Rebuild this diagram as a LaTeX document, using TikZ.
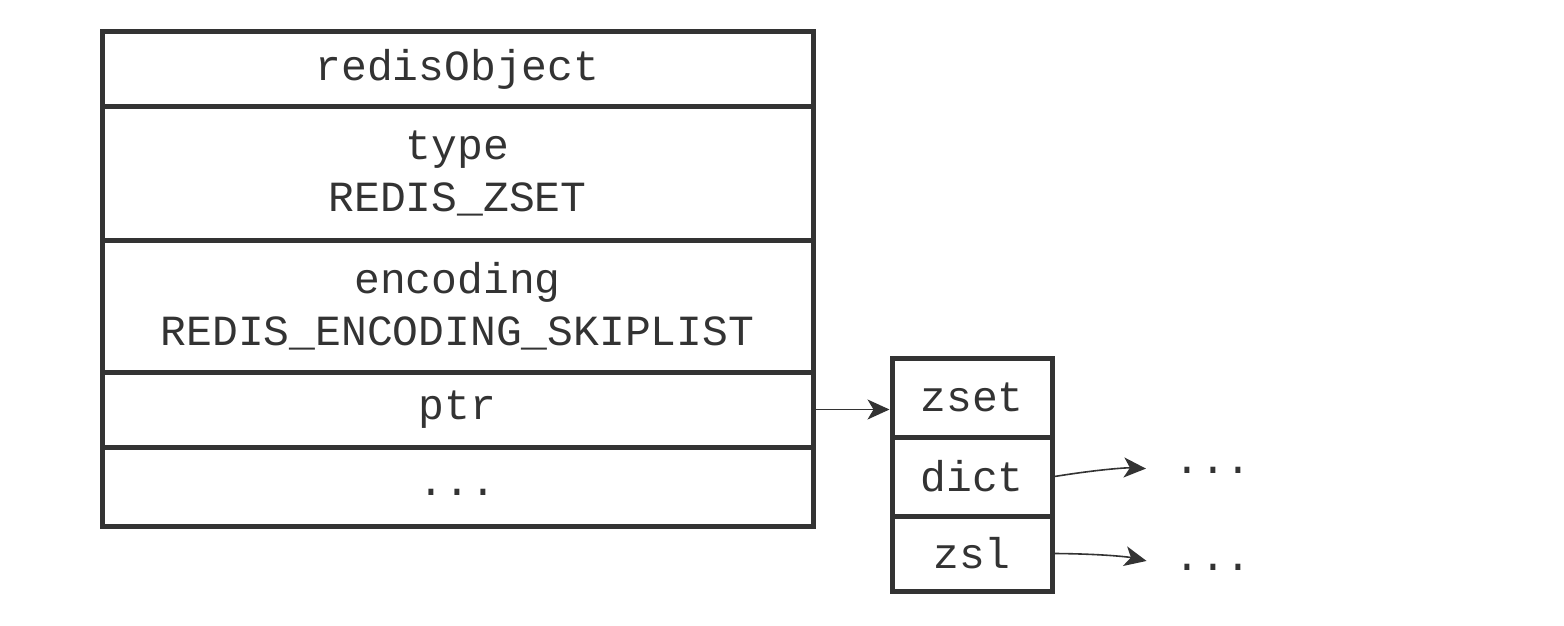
\documentclass[tikz,border=0pt]{standalone}
\usepackage{fontspec}
\setmonofont{Liberation Mono}
\usepackage{tikz}
\usetikzlibrary{arrows.meta}

\definecolor{ink}{HTML}{333333}

\begin{document}
\begin{tikzpicture}[x=0.5pt,y=-0.5pt,
    field/.style={draw=ink,line width=2.5pt,text=ink,align=center,
        font=\ttfamily\fontsize{21.5pt}{26pt}\selectfont,inner sep=0pt},
    objfield/.style={field,minimum width=355.5pt},
    setfield/.style={field,minimum width=80pt},
    pointer/.style={draw=ink,line width=0.8pt,
        -{Stealth[length=11pt,width=10pt,inset=3pt]}},
    etc/.style={text=ink,font=\ttfamily\fontsize{21.5pt}{26pt}\selectfont,inner sep=0pt}]

\useasboundingbox (0,0) rectangle (1564,626);

% redisObject
\node[objfield,minimum height=37.5pt] (obj)  at (457.5,69.5)  {redisObject};
\node[objfield,minimum height=66.5pt] (type) at (457.5,173.5) {type\\REDIS\_ZSET};
\node[objfield,minimum height=66pt]   (enc)  at (457.5,306)   {encoding\\REDIS\_ENCODING\_SKIPLIST};
\node[objfield,minimum height=37.5pt] (ptr)  at (457.5,409.5) {ptr};
\node[objfield,minimum height=39.5pt,text height=8.5pt,text depth=0pt] (more) at (457.5,486.5) {...};

% zset
\node[setfield,minimum height=39.5pt] (zset) at (972,397.5) {zset};
\node[setfield,minimum height=39.5pt] (dict) at (972,476.5) {dict};
\node[setfield,minimum height=37.5pt] (zsl)  at (972,553.5) {zsl};

\node[etc] (dictdots) at (1213,470) {...};
\node[etc] (zsldots)  at (1213,567) {...};

% pointers
\draw[pointer] (ptr.east) -- (ptr.east -| zset.west);
\draw[pointer,shorten >=14pt] (dict.east) to[bend left=6] (dictdots.west);
\draw[pointer,shorten >=14pt] (zsl.east) to[bend left=6] (zsldots.west);

\end{tikzpicture}
\end{document}
